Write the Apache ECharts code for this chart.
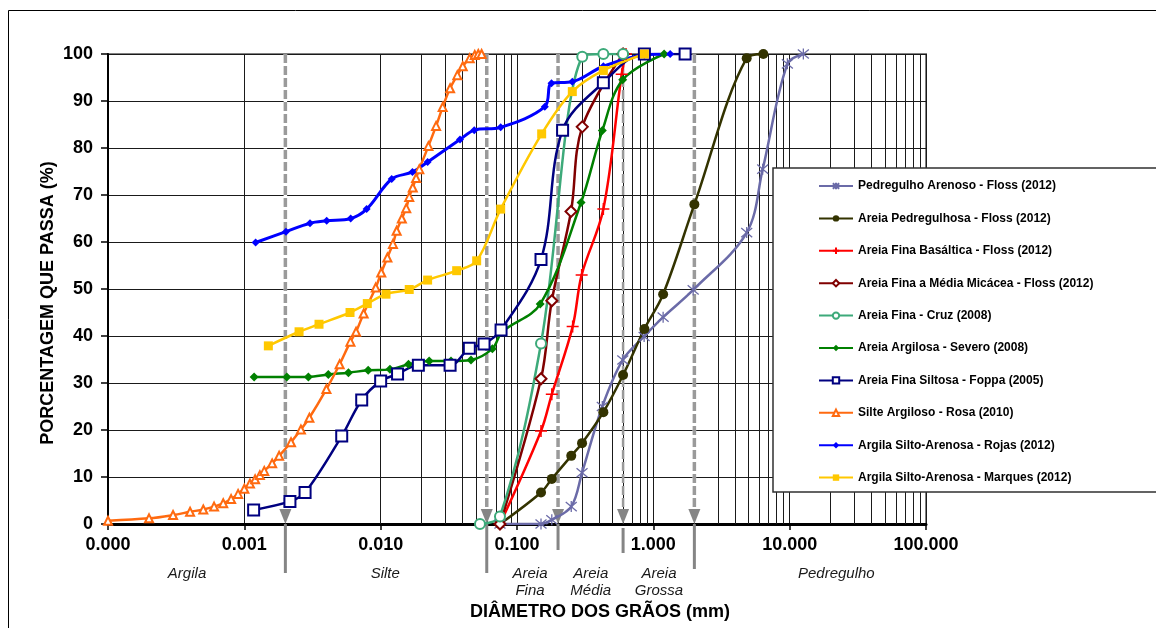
<!DOCTYPE html>
<html>
<head>
<meta charset="utf-8">
<script src="https://cdn.jsdelivr.net/npm/echarts/dist/echarts.min.js"></script>
<style>
  html, body { margin: 0; padding: 0; background: #fff; }
  #chart { width: 1156px; height: 628px; }
</style>
</head>
<body>
<div id="chart"></div>
<script>
const FONT = '"Liberation Sans", Arial, sans-serif';

// Grain-size distribution curves: [grain diameter (mm), percent passing (%)]
const pedregulhoArenoso = [[0.075,0],[0.15,0],[0.18,0.9],[0.25,3.7],[0.30,10.9],[0.4225,25.0],[0.597,34.9],[0.856,39.9],[1.18,44.0],[1.96,49.8],[4.84,62.0],[6.34,75.5],[9.62,97.9],[12.6,100]];
const areiaPedregulhosa = [[0.075,0],[0.15,6.7],[0.18,9.6],[0.25,14.5],[0.30,17.2],[0.43,23.8],[0.60,31.7],[0.86,41.5],[1.18,48.9],[2.0,68.0],[4.84,99.1],[6.41,100]];
const areiaFinaBasaltica = [[0.075,0],[0.15,19.8],[0.18,27.6],[0.256,42.0],[0.298,53.0],[0.43,67.0],[0.586,95.7],[0.63,100]];
const areiaFinaMediaMicacea = [[0.075,0],[0.15,30.9],[0.18,47.5],[0.249,66.5],[0.301,84.5],[0.60,100]];
const areiaFinaCruz = [[0.0535,0],[0.075,1.6],[0.15,38.4],[0.301,99.4],[0.43,100],[0.60,100]];
const areiaArgilosaSevero = [[0.00118,31.3],[0.00205,31.3],[0.00295,31.3],[0.00413,31.8],[0.0058,32.2],[0.0081,32.7],[0.0117,32.9],[0.016,34.0],[0.0227,34.7],[0.0328,34.7],[0.046,34.9],[0.066,37.3],[0.078,40.9],[0.148,46.8],[0.295,68.4],[0.4225,83.7],[0.596,94.5],[1.2,100]];
const areiaFinaSiltosaFoppa = [[0.00117,3.0],[0.00216,4.8],[0.00279,6.7],[0.00518,18.7],[0.00726,26.4],[0.0100,30.4],[0.0133,31.9],[0.0189,33.8],[0.0323,33.8],[0.0447,37.4],[0.0573,38.3],[0.0764,41.3],[0.150,56.3],[0.216,83.8],[0.43,93.9],[0.86,100],[1.71,100]];
const silteArgilosoRosa = [[0.0001,0.7],[0.0002,1.2],[0.0003,1.9],[0.0004,2.6],[0.0005,3.1],[0.0006,3.7],[0.0007,4.4],[0.0008,5.3],[0.0009,6.4],[0.001,7.5],[0.0011,8.6],[0.0012,9.5],[0.0013,10.4],[0.0014,11.3],[0.0016,12.9],[0.0018,14.5],[0.0022,17.4],[0.0026,20.1],[0.003,22.6],[0.004,28.7],[0.005,34.0],[0.006,38.8],[0.0066,40.9],[0.0075,44.8],[0.0092,50.3],[0.0101,53.5],[0.0112,56.7],[0.0123,59.6],[0.0131,62.4],[0.0143,65.0],[0.0154,67.2],[0.0162,69.6],[0.0172,71.6],[0.0182,73.6],[0.0192,75.5],[0.0224,80.4],[0.0255,84.7],[0.0285,88.7],[0.0323,92.7],[0.0365,95.5],[0.040,97.4],[0.045,99.1],[0.049,99.8],[0.052,100],[0.055,100]];
const argilaRojas = [[0.00121,59.9],[0.00202,62.2],[0.00303,64.0],[0.00402,64.5],[0.00603,65.0],[0.00789,67.0],[0.01205,73.4],[0.0171,74.9],[0.0221,77.0],[0.0382,81.8],[0.0486,83.8],[0.0759,84.4],[0.160,88.8],[0.179,93.8],[0.2545,94.1],[0.43,97.4],[0.86,99.8],[1.33,100]];
const argilaMarques = [[0.0015,37.9],[0.00252,40.9],[0.00353,42.5],[0.00596,45.0],[0.00798,46.9],[0.01094,48.9],[0.0162,49.9],[0.0221,51.9],[0.0361,53.9],[0.0506,56.0],[0.0759,67.0],[0.1517,83.0],[0.2545,92.0],[0.43,96.5],[0.86,100]];

const seriesNames = [
  'Pedregulho Arenoso - Floss (2012)',
  'Areia Pedregulhosa - Floss (2012)',
  'Areia Fina Basáltica - Floss (2012)',
  'Areia Fina a Média Micácea - Floss (2012)',
  'Areia Fina - Cruz (2008)',
  'Areia Argilosa - Severo (2008)',
  'Areia Fina Siltosa - Foppa (2005)',
  'Silte Argiloso - Rosa (2010)',
  'Argila Silto-Arenosa - Rojas (2012)',
  'Argila Silto-Arenosa - Marques (2012)'
];
const seriesData = [pedregulhoArenoso, areiaPedregulhosa, areiaFinaBasaltica, areiaFinaMediaMicacea, areiaFinaCruz,
  areiaArgilosaSevero, areiaFinaSiltosaFoppa, silteArgilosoRosa, argilaRojas, argilaMarques];

// Size-class boundaries (mm) and the class names written under the axis
const boundaryDiameters = [0.002, 0.06, 0.2, 0.6, 2.0];
const classNames = ['Argila', 'Silte', 'Areia\nFina', 'Areia\nMédia', 'Areia\nGrossa', 'Pedregulho'];
const classLabelAt = [0.00038, 0.0108, 0.1245, 0.3475, 1.10, 22];

// Axis ticks
const xTickValues = [0.0001, 0.001, 0.01, 0.1, 1, 10, 100];

// Intermediate log grid lines (2..9 within each decade)
const minorGrid = [];
for (let k = 0; k < xTickValues.length - 1; k++) {
  for (let m = 2; m <= 9; m++) minorGrid.push(+(m * xTickValues[k]).toPrecision(3));
}

const ASTERISK = 'path://M0,0L10,10M0,10L10,0M5,-1L5,11';
const PLUS = 'path://M5,0L5,10M0,5L10,5';

const looks = [
  { color: '#6b6ba8', symbol: ASTERISK, size: 11, fill: '#6b6ba8', bw: 1.3 },
  { color: '#333300', symbol: 'circle', size: 10, fill: '#333300', bw: 0 },
  { color: '#ff0000', symbol: PLUS, size: 12, fill: '#ff0000', bw: 1.5 },
  { color: '#800000', symbol: 'emptyDiamond', size: 11, fill: '#fff', bw: 1.2 },
  { color: '#3daa7a', symbol: 'emptyCircle', size: 10, fill: '#fff', bw: 1.2 },
  { color: '#008000', symbol: 'diamond', size: 9, fill: '#008000', bw: 0 },
  { color: '#000080', symbol: 'emptyRect', size: 11, fill: '#fff', bw: 1.3, border: '#1f4e79' },
  { color: '#ff6a10', symbol: 'emptyTriangle', size: 8, fill: '#fff', bw: 1 },
  { color: '#0000ff', symbol: 'diamond', size: 8, fill: '#0000ff', bw: 0 },
  { color: '#ffc800', symbol: 'rect', size: 9, fill: '#ffc800', bw: 0 }
];

const chart = echarts.init(document.getElementById('chart'), null, { renderer: 'canvas' });

const dataSeries = seriesData.map((d, i) => {
  const lk = looks[i];
  return {
    name: seriesNames[i],
    type: 'line',
    data: d,
    smooth: 0.35,
    z: 5,
    symbol: lk.symbol,
    symbolSize: lk.size,
    showAllSymbol: true,
    lineStyle: { color: lk.color, width: i === 8 ? 3 : 2.5 },
    itemStyle: {
      color: lk.symbol.indexOf('empty') === 0 ? lk.color : lk.fill,
      borderColor: lk.border || lk.color,
      borderWidth: lk.bw
    },
    emphasis: { disabled: true }
  };
});

// Log-scale minor grid
const gridSeries = {
  name: 'minorGrid',
  type: 'line',
  data: [],
  z: 1,
  silent: true,
  markLine: {
    z: 1,
    silent: true,
    symbol: ['none', 'none'],
    label: { show: false },
    lineStyle: { color: '#1a1a1a', width: 1, type: 'solid' },
    data: minorGrid.map(v => ({ xAxis: v }))
  }
};

// Dashed class boundaries ending in an arrow on the axis
const boundarySeries = {
  name: 'boundaries',
  type: 'custom',
  z: 3,
  silent: true,
  clip: false,
  data: boundaryDiameters.map(v => [v, 0]),
  encode: { x: 0, y: 1 },
  renderItem: (params, api) => {
    const x = api.value(0);
    const top = api.coord([x, 100]);
    const bot = api.coord([x, 0]);
    const idx = params.dataIndex;
    const thin = idx === 3;
    const ext = [49, 49, 26, 29, 45][idx];
    const children = [];
    if (!thin) {
      children.push({ type: 'line', shape: { x1: top[0], y1: top[1], x2: bot[0], y2: bot[1] - 12 },
        style: { stroke: '#ffffff', lineWidth: 3.5 } });
    }
    children.push(
      { type: 'line', shape: { x1: top[0], y1: top[1], x2: bot[0], y2: bot[1] - 12 },
        style: { stroke: '#9a9a9a', lineWidth: thin ? 2.5 : 3.5, lineDash: [9, 3] } },
      { type: 'polygon', shape: { points: [[bot[0] - 6, bot[1] - 15], [bot[0] + 6, bot[1] - 15], [bot[0], bot[1]]] },
        style: { fill: '#858585' } },
      { type: 'line', shape: { x1: bot[0], y1: bot[1] + (thin ? 4 : 0), x2: bot[0], y2: bot[1] + ext },
        style: { stroke: '#858585', lineWidth: 3 } }
    );
    return { type: 'group', children };
  }
};

// Class names below the axis
const classSeries = {
  name: 'classes',
  type: 'custom',
  z: 3,
  silent: true,
  clip: false,
  data: classLabelAt.map(v => [v, 0]),
  encode: { x: 0, y: 1 },
  renderItem: (params, api) => {
    const p = api.coord([api.value(0), 0]);
    return {
      type: 'text',
      x: p[0],
      y: p[1] + 41,
      style: {
        text: classNames[params.dataIndex],
        fill: '#1a1a1a',
        font: 'italic 15px ' + FONT,
        align: 'center',
        verticalAlign: 'top',
        lineHeight: 17
      }
    };
  }
};

chart.setOption({
  animation: false,
  backgroundColor: '#fff',
  textStyle: { fontFamily: FONT },
  grid: { left: 108, top: 54, width: 818, height: 470, show: true, borderColor: '#808080', borderWidth: 2, backgroundColor: '#fff' },
  xAxis: {
    type: 'log',
    logBase: 10,
    min: xTickValues[0],
    max: xTickValues[xTickValues.length - 1],
    axisLine: { show: true, onZero: false, lineStyle: { color: '#000', width: 3 } },
    axisTick: { show: true, length: 6, lineStyle: { color: '#000', width: 1.5 } },
    axisLabel: {
      formatter: v => v.toFixed(3),
      fontSize: 18, fontWeight: 'bold', color: '#000', fontFamily: FONT, margin: 12,
      showMinLabel: true, showMaxLabel: true
    },
    splitLine: { show: true, lineStyle: { color: '#1a1a1a', width: 1 } },
    minorTick: { show: false },
    minorSplitLine: { show: false }
  },
  yAxis: {
    type: 'value',
    min: 0, max: 100, interval: 10,
    axisLine: { show: true, lineStyle: { color: '#000', width: 2 } },
    axisTick: { show: true, length: 7, lineStyle: { color: '#000', width: 1.5 } },
    axisLabel: { fontSize: 18, fontWeight: 'bold', color: '#000', fontFamily: FONT, margin: 15 },
    splitLine: { show: true, lineStyle: { color: '#1a1a1a', width: 1 } }
  },
  legend: {
    data: seriesNames,
    orient: 'vertical',
    left: 813,
    top: 174,
    z: 20,
    itemWidth: 34,
    itemHeight: 8,
    itemGap: 18.4,
    selectedMode: false,
    textStyle: { fontSize: 12, fontWeight: 'bold', color: '#000', fontFamily: FONT, lineHeight: 14 }
  },
  graphic: [
    { type: 'rect', z: 0, shape: { x: 8.5, y: 10.5, width: 1300, height: 800 },
      style: { fill: 'none', stroke: '#000', lineWidth: 1 } },
    { type: 'rect', z: 10, shape: { x: 773, y: 168, width: 500, height: 324 },
      style: { fill: '#fff', stroke: '#303030', lineWidth: 1.5 } },
    { type: 'text', z: 10, x: 48, y: 303, rotation: Math.PI / 2,
      style: { text: 'PORCENTAGEM QUE PASSA (%)', font: 'bold 18px ' + FONT, fill: '#000', align: 'center', verticalAlign: 'middle' } },
    { type: 'text', z: 10, x: 600, y: 612,
      style: { text: 'DIÂMETRO DOS GRÃOS (mm)', font: 'bold 18px ' + FONT, fill: '#000', align: 'center', verticalAlign: 'middle' } }
  ],
  series: [gridSeries, boundarySeries, classSeries].concat(dataSeries)
});
</script>
</body>
</html>
